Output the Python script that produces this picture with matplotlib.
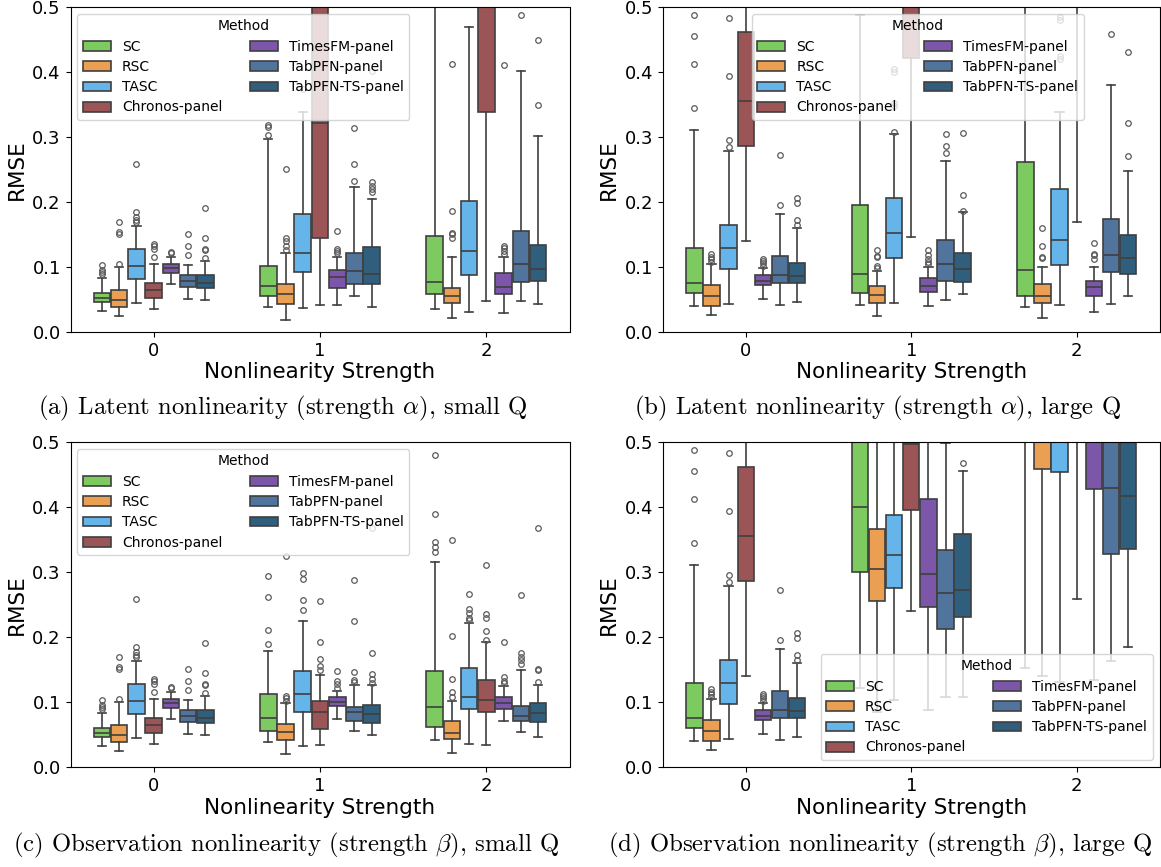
import matplotlib
matplotlib.use('Agg')
import matplotlib.pyplot as plt
from matplotlib.patches import Patch

plt.rcParams['mathtext.fontset'] = 'cm'
plt.rcParams['axes.unicode_minus'] = False

METHODS = ['SC', 'RSC', 'TASC', 'Chronos-panel', 'TimesFM-panel', 'TabPFN-panel', 'TabPFN-TS-panel']
COLORS = ['#7dcb60', '#eb9f52', '#65b5ea', '#9c5556', '#7c56a8', '#50749b', '#2f5f7d']
GROUP_LABELS = ['0', '1', '2']
CAPTIONS = [r'(a) Latent nonlinearity (strength $\alpha$), small Q',
            r'(b) Latent nonlinearity (strength $\alpha$), large Q',
            r'(c) Observation nonlinearity (strength $\beta$), small Q',
            r'(d) Observation nonlinearity (strength $\beta$), large Q']

# ---- Panel (a): each row = one group, each entry = one method ----
A_LOW = [[0.033, 0.025, 0.044, 0.036, 0.074, 0.051, 0.050],
         [0.038, 0.019, 0.037, 0.042, 0.042, 0.055, 0.039],
         [0.035, 0.022, 0.031, 0.047, 0.030, 0.047, 0.043]]
A_Q1 = [[0.046, 0.038, 0.081, 0.052, 0.091, 0.070, 0.068],
        [0.056, 0.043, 0.092, 0.145, 0.068, 0.074, 0.074],
        [0.058, 0.045, 0.088, 0.338, 0.059, 0.077, 0.078]]
A_MED = [[0.053, 0.050, 0.102, 0.065, 0.099, 0.078, 0.076],
         [0.071, 0.058, 0.121, 0.322, 0.084, 0.094, 0.090],
         [0.077, 0.055, 0.125, 0.600, 0.070, 0.105, 0.097]]
A_Q3 = [[0.060, 0.065, 0.128, 0.075, 0.105, 0.087, 0.088],
        [0.102, 0.074, 0.181, 0.600, 0.096, 0.121, 0.131],
        [0.148, 0.068, 0.202, 0.800, 0.091, 0.156, 0.134]]
A_HIGH = [[0.083, 0.100, 0.163, 0.105, 0.115, 0.103, 0.110],
          [0.297, 0.121, 0.338, 0.900, 0.115, 0.223, 0.204],
          [0.700, 0.116, 0.470, 1.000, 0.115, 0.401, 0.301]]
A_FLIERS = [[[0.090, 0.092, 0.096, 0.103], [0.105, 0.151, 0.154, 0.169],
             [0.169, 0.172, 0.177, 0.184, 0.259], [0.115, 0.128, 0.133, 0.136],
             [0.121, 0.123], [0.119, 0.133, 0.151], [0.114, 0.126, 0.127, 0.144, 0.191]],
            [[0.303, 0.315, 0.318], [0.126, 0.133, 0.140, 0.144, 0.251],
             [0.374], [], [0.122, 0.125, 0.128, 0.156],
             [0.233, 0.258, 0.314], [0.215, 0.220, 0.225, 0.231, 0.402]],
            [[], [0.144, 0.151, 0.153, 0.186, 0.413], [], [],
             [0.120, 0.125, 0.130, 0.133, 0.411], [0.487], [0.350, 0.450]]]

# ---- Panel (b) ----
B_LOW = [[0.040, 0.026, 0.043, 0.140, 0.051, 0.041, 0.046],
         [0.041, 0.024, 0.045, 0.146, 0.040, 0.049, 0.058],
         [0.038, 0.021, 0.041, 0.170, 0.031, 0.043, 0.056]]
B_Q1 = [[0.060, 0.040, 0.097, 0.286, 0.072, 0.075, 0.075],
        [0.060, 0.045, 0.114, 0.422, 0.061, 0.079, 0.077],
        [0.056, 0.045, 0.103, 0.550, 0.055, 0.093, 0.090]]
B_MED = [[0.075, 0.056, 0.130, 0.355, 0.079, 0.088, 0.086],
         [0.090, 0.057, 0.152, 0.600, 0.071, 0.105, 0.097],
         [0.096, 0.056, 0.141, 0.700, 0.069, 0.118, 0.114]]
B_Q3 = [[0.129, 0.073, 0.165, 0.462, 0.088, 0.117, 0.106],
        [0.195, 0.071, 0.206, 0.800, 0.083, 0.142, 0.122],
        [0.262, 0.074, 0.220, 0.850, 0.079, 0.174, 0.150]]
B_HIGH = [[0.311, 0.105, 0.278, 0.700, 0.099, 0.182, 0.160],
          [0.488, 0.094, 0.305, 1.000, 0.100, 0.263, 0.184],
          [0.700, 0.100, 0.338, 1.000, 0.100, 0.380, 0.247]]
B_FLIERS = [[[0.345, 0.412, 0.455, 0.488], [0.108, 0.112, 0.116, 0.120],
             [0.285, 0.295, 0.394, 0.483], [], [0.102, 0.106, 0.110, 0.113],
             [0.195, 0.272], [0.165, 0.172, 0.198, 0.206]],
            [[], [0.099, 0.101, 0.115, 0.117, 0.126], [0.308, 0.347, 0.352, 0.400, 0.405],
             [], [0.104, 0.108, 0.112, 0.118, 0.126], [0.276, 0.286, 0.304],
             [0.186, 0.211, 0.306]],
            [[], [0.114, 0.115, 0.133, 0.160], [0.420, 0.425, 0.480, 0.485], [],
             [0.113, 0.118, 0.120, 0.137], [0.459], [0.271, 0.322, 0.431]]]

# ---- Panel (c) ----
C_LOW = [[0.033, 0.025, 0.044, 0.036, 0.074, 0.051, 0.050],
         [0.038, 0.020, 0.032, 0.034, 0.074, 0.056, 0.050],
         [0.041, 0.022, 0.036, 0.034, 0.071, 0.054, 0.046]]
C_Q1 = [[0.046, 0.038, 0.081, 0.052, 0.091, 0.070, 0.068],
        [0.055, 0.041, 0.085, 0.059, 0.094, 0.071, 0.068],
        [0.061, 0.043, 0.089, 0.085, 0.090, 0.071, 0.070]]
C_MED = [[0.053, 0.050, 0.102, 0.065, 0.099, 0.078, 0.076],
         [0.076, 0.054, 0.113, 0.084, 0.100, 0.085, 0.082],
         [0.092, 0.052, 0.108, 0.103, 0.098, 0.079, 0.083]]
C_Q3 = [[0.060, 0.065, 0.128, 0.075, 0.105, 0.087, 0.088],
        [0.112, 0.066, 0.148, 0.102, 0.107, 0.092, 0.095],
        [0.147, 0.071, 0.153, 0.134, 0.108, 0.094, 0.099]]
C_HIGH = [[0.083, 0.100, 0.163, 0.105, 0.115, 0.103, 0.110],
          [0.178, 0.098, 0.225, 0.142, 0.117, 0.126, 0.126],
          [0.315, 0.101, 0.222, 0.192, 0.125, 0.149, 0.126]]
C_FLIERS = [[[0.090, 0.092, 0.096, 0.103], [0.105, 0.151, 0.154, 0.169],
             [0.169, 0.172, 0.177, 0.184, 0.259], [0.115, 0.128, 0.133, 0.136],
             [0.121, 0.123], [0.119, 0.133, 0.151], [0.114, 0.126, 0.127, 0.144, 0.191]],
            [[0.190, 0.211, 0.262, 0.294], [0.102, 0.106, 0.109, 0.325],
             [0.242, 0.257, 0.289, 0.298], [0.150, 0.155, 0.166, 0.192, 0.256],
             [0.122, 0.127, 0.133, 0.148], [0.131, 0.134, 0.146, 0.225, 0.288],
             [0.130, 0.135, 0.143, 0.176, 0.367]],
            [[0.331, 0.338, 0.346, 0.389, 0.480], [0.108, 0.116, 0.136, 0.202, 0.350],
             [0.226, 0.230, 0.237, 0.243, 0.266], [0.196, 0.209, 0.230, 0.236, 0.311],
             [0.129, 0.133, 0.139, 0.192], [0.159, 0.164, 0.170, 0.176, 0.265],
             [0.131, 0.150, 0.151, 0.368]]]

# ---- Panel (d) ----
D_LOW = [[0.040, 0.026, 0.043, 0.140, 0.051, 0.041, 0.046],
         [0.121, 0.084, 0.103, 0.240, 0.088, 0.107, 0.107],
         [0.152, 0.140, 0.131, 0.259, 0.134, 0.163, 0.185]]
D_Q1 = [[0.060, 0.040, 0.097, 0.286, 0.072, 0.075, 0.075],
        [0.300, 0.256, 0.275, 0.395, 0.246, 0.212, 0.231],
        [0.600, 0.458, 0.454, 0.600, 0.427, 0.327, 0.336]]
D_MED = [[0.075, 0.056, 0.130, 0.355, 0.079, 0.088, 0.086],
         [0.400, 0.304, 0.326, 0.497, 0.297, 0.268, 0.272],
         [0.700, 0.550, 0.550, 0.700, 0.550, 0.429, 0.417]]
D_Q3 = [[0.129, 0.073, 0.165, 0.462, 0.088, 0.117, 0.106],
        [0.600, 0.366, 0.387, 0.600, 0.412, 0.334, 0.358],
        [0.800, 0.650, 0.650, 0.800, 0.650, 0.600, 0.600]]
D_HIGH = [[0.311, 0.105, 0.278, 0.700, 0.099, 0.182, 0.160],
          [0.800, 0.700, 0.700, 0.800, 0.700, 0.499, 0.456],
          [0.900, 0.800, 0.800, 0.900, 0.800, 0.800, 0.800]]
D_FLIERS = [[[0.345, 0.412, 0.455, 0.488], [0.108, 0.112, 0.116, 0.120],
             [0.285, 0.295, 0.394, 0.483], [], [0.102, 0.106, 0.110, 0.113],
             [0.195, 0.272], [0.165, 0.172, 0.198, 0.206]],
            [[], [], [], [], [], [], [0.467]],
            [[], [], [], [], [], [], []]]

EDGE = '#3f3f3f'
FLIER_EDGE = '#5a5a5a'
LW = 1.2
SLOT = 0.1036

W, H = 1161, 867
fig = plt.figure(figsize=(W / 100, H / 100), dpi=100)


def make_axes(l, r, t, b):
    return fig.add_axes([l / W, 1 - b / H, (r - l) / W, (b - t) / H])


def draw(ax, low, q1, med, q3, high, fliers):
    for g in range(len(GROUP_LABELS)):
        for m in range(len(METHODS)):
            pos = g + (m - 3) * SLOT
            st = dict(whislo=low[g][m], q1=q1[g][m], med=med[g][m], q3=q3[g][m],
                      whishi=high[g][m], fliers=fliers[g][m])
            ax.bxp([st], positions=[pos], widths=SLOT * 0.96, patch_artist=True,
                   showfliers=True, manage_ticks=False,
                   boxprops=dict(facecolor=COLORS[m], edgecolor=EDGE, linewidth=LW),
                   medianprops=dict(color=EDGE, linewidth=LW),
                   whiskerprops=dict(color=EDGE, linewidth=LW),
                   capprops=dict(color=EDGE, linewidth=LW),
                   flierprops=dict(marker='o', markersize=4, markerfacecolor='none',
                                   markeredgecolor=FLIER_EDGE, markeredgewidth=0.9,
                                   linestyle='none'))
    ax.set_xlim(-0.5, 2.5)
    ax.set_ylim(0, 0.5)
    ax.set_xticks(range(len(GROUP_LABELS)))
    ax.set_xticklabels(GROUP_LABELS)
    ax.set_yticks([0.0, 0.1, 0.2, 0.3, 0.4, 0.5])
    ax.set_yticklabels(['0.0', '0.1', '0.2', '0.3', '0.4', '0.5'])
    ax.tick_params(labelsize=13)
    ax.set_xlabel('Nonlinearity Strength', fontsize=15.5, labelpad=2)
    ax.set_ylabel('RMSE', fontsize=15.5, labelpad=4)


def legend(ax, **kw):
    handles = [Patch(facecolor=c, edgecolor=EDGE, linewidth=LW, label=m)
               for m, c in zip(METHODS, COLORS)]
    ax.legend(handles=handles, ncol=2, title='Method', fontsize=10, title_fontsize=10,
              labelspacing=0.45, **kw)


ax_a = make_axes(70.5, 569.5, 7, 332)
ax_b = make_axes(663, 1159.5, 7, 332)
ax_c = make_axes(70.5, 569.5, 442, 767)
ax_d = make_axes(663, 1159.5, 442, 767)

draw(ax_a, A_LOW, A_Q1, A_MED, A_Q3, A_HIGH, A_FLIERS)
draw(ax_b, B_LOW, B_Q1, B_MED, B_Q3, B_HIGH, B_FLIERS)
draw(ax_c, C_LOW, C_Q1, C_MED, C_Q3, C_HIGH, C_FLIERS)
draw(ax_d, D_LOW, D_Q1, D_MED, D_Q3, D_HIGH, D_FLIERS)

legend(ax_a, loc='upper left')
legend(ax_b, loc='upper left', bbox_to_anchor=(0.165, 1.0))
legend(ax_c, loc='upper left')
legend(ax_d, loc='lower right')

CAP_FS = 17.8
fig.text(283 / W, 1 - 408 / H, CAPTIONS[0], ha='center', va='center', fontsize=CAP_FS, family='cmr10')
fig.text(877 / W, 1 - 408 / H, CAPTIONS[1], ha='center', va='center', fontsize=CAP_FS, family='cmr10')
fig.text(286 / W, 1 - 845 / H, CAPTIONS[2], ha='center', va='center', fontsize=CAP_FS, family='cmr10')
fig.text(880 / W, 1 - 845 / H, CAPTIONS[3], ha='center', va='center', fontsize=CAP_FS, family='cmr10')

fig.savefig('out.png', dpi=100)
